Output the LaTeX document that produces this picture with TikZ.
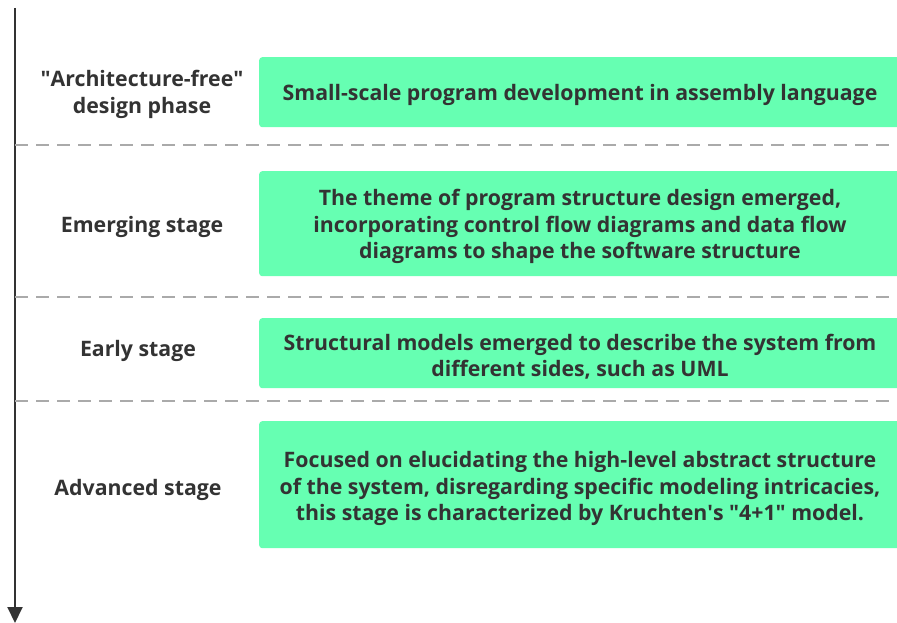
\documentclass[tikz,border=0pt]{standalone}
\usepackage{fontspec}
\setmainfont{Open Sans}
\usetikzlibrary{arrows.meta}
\definecolor{stagegreen}{RGB}{102,255,178}
\definecolor{inkgray}{RGB}{51,51,51}
\definecolor{sepgray}{RGB}{170,170,170}
\tikzset{
  stagebox/.style={fill=stagegreen, rounded corners=3pt, anchor=north west, inner sep=0pt},
  stagelabel/.style={font=\bfseries\fontsize{21.3}{26.5}\selectfont, text=inkgray, align=center, inner sep=0.75pt},
  sepline/.style={draw=sepgray, line width=1.5pt, dash pattern=on 13pt off 8pt}
}
\begin{document}
\begin{tikzpicture}[x=1pt,y=1pt,yscale=-1,xscale=1]
        \useasboundingbox (0,0) rectangle (897,623);
        
        %Time axis
        \coordinate (axistop) at (15,8);
        \coordinate (axisend) at (15,623);
        \draw [inkgray, line width=2pt, -{Triangle[width=15pt,length=16pt]}] (axistop) -- (axisend);
        
        %Separators
        \coordinate (sepa) at (15,145);
        \coordinate (sepaend) at (897,145);
        \coordinate (sepb) at (15,297);
        \coordinate (sepbend) at (897,297);
        \coordinate (sepc) at (15,401);
        \coordinate (sepcend) at (897,401);
        \draw [sepline] (sepa) -- (sepaend);
        \draw [sepline] (sepb) -- (sepbend);
        \draw [sepline] (sepc) -- (sepcend);
        
        %Shape: Rounded Rectangles
        \node (boxa) [stagebox, minimum width=645pt, minimum height=70pt] at (259,57) {};
        \node (boxb) [stagebox, minimum width=645pt, minimum height=105pt] at (259,171) {};
        \node (boxc) [stagebox, minimum width=645pt, minimum height=70pt] at (259,318) {};
        \node (boxd) [stagebox, minimum width=645pt, minimum height=127pt] at (259,421) {};
        
        % Text Nodes in boxes
        \node (texta) [stagelabel] at (580,95) {Small-scale program development in assembly language};
        \node (textb) [stagelabel] at (580,226.5) {The theme of program structure design emerged,\\incorporating control flow diagrams and data flow\\diagrams to shape the software structure};
        \node (textc) [stagelabel] at (580,356.5) {Structural models emerged to describe the system from\\different sides, such as UML};
        \node (textd) [stagelabel] at (580,488.5) {Focused on elucidating the high-level abstract structure\\of the system, disregarding specific modeling intricacies,\\this stage is characterized by Kruchten\textquotesingle s \textquotedbl 4+1\textquotedbl{} model.};
        
        % Text Nodes, stage names
        \node (stagea) [stagelabel] at (142,94.5) {\textquotedbl Architecture-free\textquotedbl\\design phase};
        \node (stageb) [stagelabel] at (142,226.5) {Emerging stage};
        \node (stagec) [stagelabel] at (138,350.5) {Early stage};
        \node (staged) [stagelabel] at (138,489.5) {Advanced stage};
\end{tikzpicture}
\end{document}
